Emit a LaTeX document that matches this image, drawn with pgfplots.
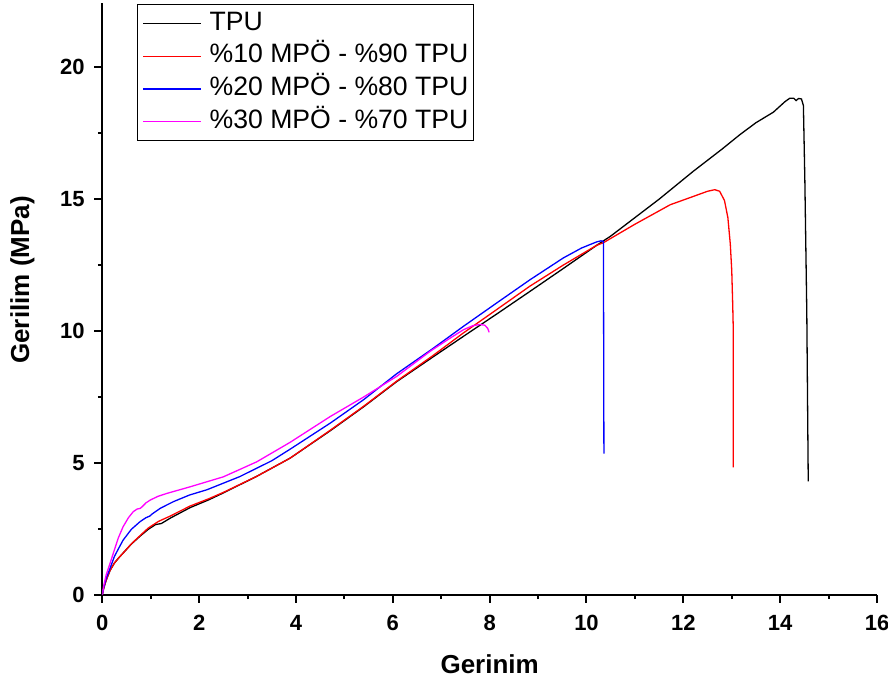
\documentclass[border=0pt]{standalone}
\usepackage{fontspec}
\setmainfont{Liberation Sans}
\usepackage{pgfplots}
\pgfplotsset{compat=1.18}
\definecolor{mag}{RGB}{255,0,255}
\begin{document}
\begin{tikzpicture}
\begin{axis}[
 scale only axis, width=387.35pt, height=295.85pt,
 xmin=0, xmax=16, ymin=0, ymax=22.44,
 axis lines=left, axis line style={-, line width=1pt},
 tick align=outside,
 xtick={0,2,...,16}, ytick={0,5,10,15,20},
 minor x tick num=1, minor y tick num=1,
 major tick length=4pt, minor tick length=2.2pt,
 every tick/.style={black, line width=1pt},
 /pgf/number format/assume math mode=true,
 ticklabel style={font=\fontsize{11}{11}\selectfont\bfseries},
 xticklabel style={anchor=north, inner sep=0pt, yshift=-6pt},
 yticklabel style={anchor=east, inner sep=0pt, xshift=-4.6pt},
 xlabel={Gerinim}, ylabel={Gerilim (MPa)},
 label style={font=\fontsize{13}{13}\selectfont\bfseries},
 xlabel style={at={(axis description cs:0.5,-0.1325)}, anchor=base},
 ylabel style={at={(axis description cs:-0.0945,0.532)}, anchor=base},
 legend cell align=left,
 legend style={at={(axis description cs:0.0448,0.998)}, anchor=north west,
   draw=black, line width=0.5pt, fill=white,
   font=\fontsize{13.3}{13.3}\selectfont,
   inner xsep=2.4pt, inner ysep=3pt, row sep=3.35pt, column sep=4pt,
   nodes={inner sep=0pt, text height=9.8pt, text depth=3.2pt}},
 legend image code/.code={\draw[#1, line width=0.7pt] (0pt,0pt) -- (29pt,0pt);},
 every axis plot/.append style={line width=0.65pt},
]
\addplot[black] coordinates {(0,0) (0.03,0.25) (0.08,0.55) (0.16,0.92) (0.25,1.2) (0.35,1.42) (0.45,1.62) (0.6,1.92) (0.78,2.22) (0.95,2.48) (1.1,2.66) (1.16,2.68) (1.22,2.7) (1.4,2.9) (1.81,3.3) (2.2,3.6) (2.5,3.86) (3.19,4.49) (3.88,5.18) (4.71,6.22) (5.4,7.13) (6.08,8.08) (6.8,8.98) (7.46,9.8) (8.15,10.65) (8.83,11.5) (9.52,12.37) (10.21,13.25) (10.5,13.6) (11.0,14.3) (11.5,15.0) (12.2,16.05) (12.8,16.9) (13.17,17.45) (13.5,17.9) (13.86,18.3) (14.1,18.7) (14.2,18.83) (14.28,18.83) (14.33,18.74) (14.38,18.82) (14.44,18.8) (14.48,18.55) (14.51,15.7) (14.55,10.7) (14.58,4.3)};
\addlegendentry{TPU}
\addplot[red] coordinates {(0,0) (0.03,0.25) (0.08,0.55) (0.16,0.92) (0.25,1.2) (0.35,1.42) (0.45,1.62) (0.6,1.93) (0.78,2.24) (0.95,2.53) (1.16,2.78) (1.4,2.98) (1.81,3.36) (2.2,3.64) (2.5,3.88) (3.19,4.49) (3.88,5.18) (4.71,6.24) (5.4,7.15) (6.08,8.1) (6.8,9.03) (7.46,9.93) (8.15,10.82) (8.83,11.7) (9.52,12.5) (10.21,13.25) (10.35,13.35) (11.0,14.05) (11.73,14.79) (12.2,15.1) (12.5,15.3) (12.65,15.36) (12.75,15.3) (12.85,14.95) (12.92,14.3) (12.97,13.3) (13.0,12.3) (13.02,11.0) (13.03,10.2) (13.03,4.83)};
\addlegendentry{\%10 MPÖ - \%90 TPU}
\addplot[blue] coordinates {(0,0) (0.03,0.28) (0.08,0.62) (0.16,1.0) (0.25,1.45) (0.35,1.8) (0.43,2.07) (0.6,2.48) (0.78,2.77) (0.9,2.92) (0.98,2.98) (1.02,3.05) (1.2,3.28) (1.47,3.53) (1.8,3.78) (2.16,3.98) (2.84,4.48) (3.5,5.08) (3.88,5.52) (4.71,6.51) (5.4,7.4) (6.08,8.38) (6.8,9.3) (7.46,10.18) (8.15,11.07) (8.83,11.94) (9.52,12.77) (9.9,13.15) (10.21,13.38) (10.3,13.42) (10.35,13.4) (10.36,5.35)};
\addlegendentry{\%20 MPÖ - \%80 TPU}
\addplot[mag] coordinates {(0,0) (0.03,0.35) (0.08,0.75) (0.16,1.19) (0.25,1.7) (0.33,2.15) (0.43,2.58) (0.54,2.92) (0.64,3.15) (0.72,3.25) (0.78,3.27) (0.82,3.33) (0.9,3.48) (0.99,3.59) (1.15,3.73) (1.33,3.84) (1.81,4.09) (2.5,4.47) (3.19,5.04) (3.88,5.78) (4.71,6.76) (5.4,7.5) (6.08,8.28) (6.77,9.23) (7.2,9.75) (7.46,10.05) (7.65,10.2) (7.8,10.25) (7.9,10.22) (7.96,10.1) (7.99,9.95)};
\addlegendentry{\%30 MPÖ - \%70 TPU}
\coordinate (SW) at (rel axis cs:0,0);
\coordinate (NE) at (rel axis cs:1,1);
\end{axis}
\pgfresetboundingbox
\path ([shift={(-51.15pt,-43.65pt)}]SW) rectangle ([shift={(5.5pt,1.5pt)}]NE);
\end{tikzpicture}
\end{document}
